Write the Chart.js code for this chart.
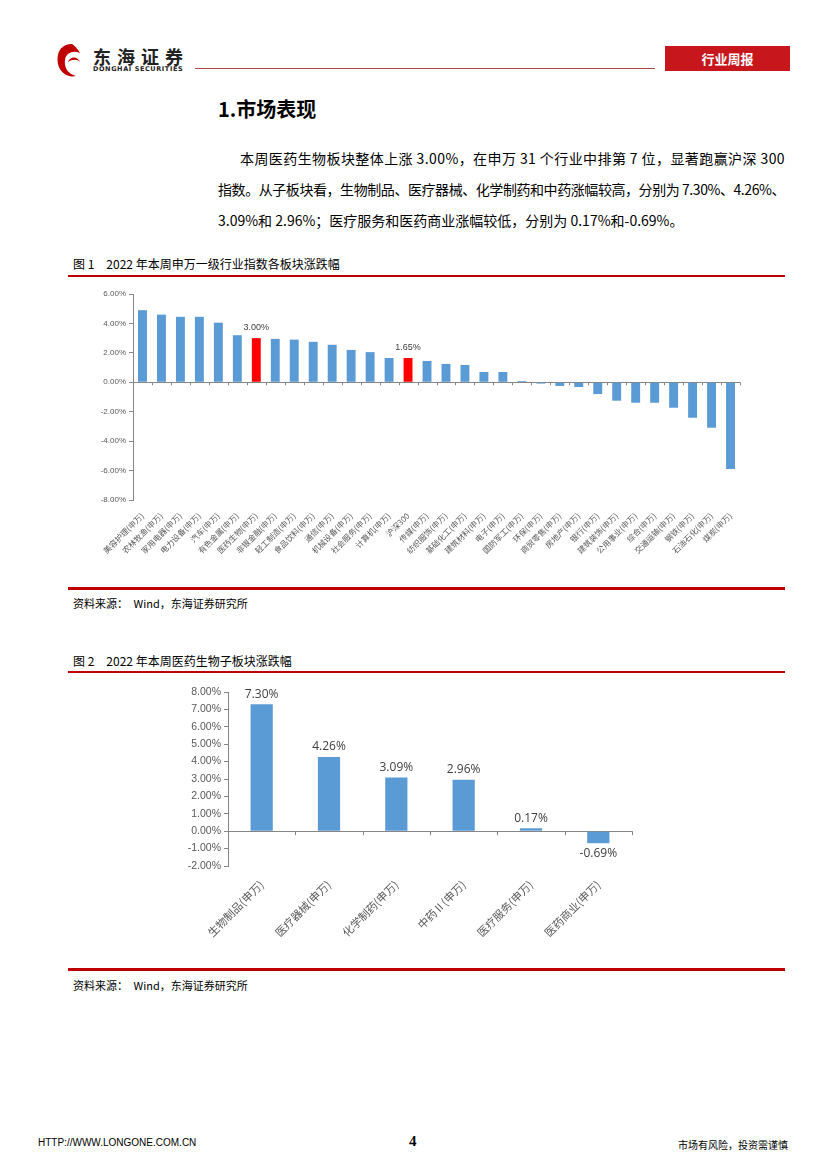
<!DOCTYPE html>
<html>
<head>
<meta charset="utf-8">
<script src="https://cdn.jsdelivr.net/npm/chart.js@4.4.1/dist/chart.umd.min.js"></script>
<style>
body { margin: 0; width: 827px; height: 1170px; background: #fff; position: relative; overflow: hidden;
       font-family: "Noto Sans CJK SC", sans-serif; color: #000; }
.abs { position: absolute; white-space: nowrap; }
.rule { position: absolute; background: #c00000; }
.para { font-size: 14px; }
.caption { font-size: 12px; }
.source { font-size: 11px; }
</style>
</head>
<body>

<!-- header -->
<svg class="abs" style="left:52px;top:40px" width="40" height="42" viewBox="0 0 40 42">
  <path d="M20 4 C8 4 4 14 6 24 C8 33 16 38 24 36 C16 34 12 28 13 20 C14 12 22 10 28 13 C24 6 20 4 20 4 Z" fill="#c00000"/>
  <path d="M16 22 C18 16 26 16 28 22 C26 19 20 19 16 22 Z" fill="#c00000"/>
</svg>
<div class="abs" style="left:93px;top:47px;font-size:18px;line-height:18px;font-weight:bold;letter-spacing:6px;color:#222">东海证券</div>
<div class="abs" style="left:93px;top:66px;font-size:6.5px;line-height:7px;font-weight:bold;letter-spacing:0.6px;font-family:'DejaVu Sans';color:#222">DONGHAI SECURITIES</div>
<div class="rule" style="left:195px;top:68px;width:460px;height:1px;background:#b04a4a"></div>
<div class="abs" style="left:665px;top:46px;width:125px;height:25px;background:#c8161d;color:#fff;font-size:13px;font-weight:bold;text-align:center;line-height:25px">行业周报</div>

<!-- section text -->
<div class="abs" style="left:218px;top:94px;font-size:20px;font-weight:bold">1.市场表现</div>
<div class="abs para fit" data-w="545" style="left:240px;top:148px">本周医药生物板块整体上涨 3.00%，在申万 31 个行业中排第 7 位，显著跑赢沪深 300</div>
<div class="abs para fit" data-w="567" style="left:218px;top:179px">指数。从子板块看，生物制品、医疗器械、化学制药和中药涨幅较高，分别为 7.30%、4.26%、</div>
<div class="abs para" style="left:218px;top:210px">3.09%和 2.96%；医疗服务和医药商业涨幅较低，分别为 0.17%和-0.69%。</div>

<!-- figure 1 -->
<div class="abs caption" style="left:73px;top:255px">图 1　2022 年本周申万一级行业指数各板块涨跌幅</div>
<div class="rule" style="left:68px;top:275px;width:717px;height:2px"></div>
<div class="abs" style="left:68px;top:280px"><canvas id="chart1" width="700" height="302"></canvas></div>
<div class="rule" style="left:68px;top:587px;width:717px;height:3px"></div>
<div class="abs source" style="left:73px;top:595px">资料来源：　Wind，东海证券研究所</div>

<!-- figure 2 -->
<div class="abs caption" style="left:73px;top:652px">图 2　2022 年本周医药生物子板块涨跌幅</div>
<div class="rule" style="left:68px;top:671px;width:717px;height:2px"></div>
<div class="abs" style="left:150px;top:676px"><canvas id="chart2" width="500" height="288"></canvas></div>
<div class="rule" style="left:68px;top:968px;width:717px;height:3px"></div>
<div class="abs source" style="left:73px;top:977px">资料来源：　Wind，东海证券研究所</div>

<!-- footer -->
<div class="abs" style="left:38px;top:1137px;font-size:10px;font-family:'Liberation Sans'">HTTP://WWW.LONGONE.COM.CN</div>
<div class="abs" style="left:409px;top:1133px;font-size:15px;font-weight:bold;font-family:'Liberation Serif'">4</div>
<div class="abs" style="left:678px;top:1137px;font-size:10px">市场有风险，投资需谨慎</div>

<script>
// Figure 1: SW level-1 industries, weekly change (%)
const industryLabels = [
    '美容护理(申万)', '农林牧渔(申万)', '家用电器(申万)', '电力设备(申万)', '汽车(申万)',
    '有色金属(申万)', '医药生物(申万)', '非银金融(申万)', '轻工制造(申万)', '食品饮料(申万)',
    '通信(申万)', '机械设备(申万)', '社会服务(申万)', '计算机(申万)', '沪深300',
    '传媒(申万)', '纺织服饰(申万)', '基础化工(申万)', '建筑材料(申万)', '电子(申万)',
    '国防军工(申万)', '环保(申万)', '商贸零售(申万)', '房地产(申万)', '银行(申万)',
    '建筑装饰(申万)', '公用事业(申万)', '综合(申万)', '交通运输(申万)', '钢铁(申万)',
    '石油石化(申万)', '煤炭(申万)'
];
const industryValues = [
    4.90, 4.60, 4.45, 4.45, 4.05, 3.20, 3.00, 2.95, 2.90, 2.75,
    2.55, 2.20, 2.05, 1.65, 1.65, 1.45, 1.25, 1.18, 0.70, 0.70,
    0.09, -0.09, -0.25, -0.32, -0.80, -1.25, -1.39, -1.39, -1.73, -2.41,
    -3.09, -5.89
];
const highlighted = ['医药生物(申万)', '沪深300'];
const industryAxis = { min: -8, max: 6, step: 2 };

// Figure 2: pharma sub-sectors, weekly change (%)
const subLabels = ['生物制品(申万)', '医疗器械(申万)', '化学制药(申万)', '中药Ⅱ(申万)', '医疗服务(申万)', '医药商业(申万)'];
const subValues = [7.30, 4.26, 3.09, 2.96, 0.17, -0.69];
const subAxis = { min: -2, max: 8, step: 1 };

const BLUE = '#5b9bd5';
const RED = '#ff0000';
const AXIS = '#868686';
const TEXT = '#595959';

// stretch paragraph lines to their measured widths in the page
function fitLines() {
    document.querySelectorAll('.fit').forEach(el => {
        const target = parseFloat(el.dataset.w);
        const natural = el.getBoundingClientRect().width;
        const n = el.textContent.length;
        el.style.letterSpacing = ((target - natural) / n) + 'px';
    });
}

// value labels above (or below) chosen bars
const valueLabels = {
    id: 'valueLabels',
    afterDatasetsDraw(chart, args, opts) {
        const { ctx } = chart;
        const meta = chart.getDatasetMeta(0);
        const values = chart.data.datasets[0].data;
        ctx.save();
        ctx.font = opts.font;
        ctx.fillStyle = '#404040';
        ctx.textAlign = 'center';
        meta.data.forEach((bar, i) => {
            if (opts.only && !opts.only.includes(chart.data.labels[i])) return;
            const v = values[i];
            const text = v.toFixed(2) + '%';
            if (v >= 0) {
                ctx.textBaseline = 'bottom';
                ctx.fillText(text, bar.x, bar.y - opts.gap);
            } else {
                ctx.textBaseline = 'top';
                ctx.fillText(text, bar.x, bar.y + opts.gap);
            }
        });
        ctx.restore();
    }
};

// small category tick marks hanging from the zero line
const zeroTicks = {
    id: 'zeroTicks',
    afterDatasetsDraw(chart, args, opts) {
        const { ctx } = chart;
        const x = chart.scales.x, y = chart.scales.y;
        const y0 = y.getPixelForValue(0);
        const n = chart.data.labels.length;
        const step = (x.right - x.left) / n;
        ctx.save();
        ctx.strokeStyle = AXIS;
        ctx.lineWidth = 1;
        ctx.beginPath();
        for (let i = 1; i <= n; i++) {
            const px = Math.round(x.left + i * step) + 0.5;
            ctx.moveTo(px, y0);
            ctx.lineTo(px, y0 + opts.len);
        }
        ctx.stroke();
        ctx.restore();
    }
};

function makeChart(id, labels, values, colors, axis, cfg) {
    return new Chart(document.getElementById(id), {
        type: 'bar',
        data: {
            labels: labels,
            datasets: [{ data: values, backgroundColor: colors, borderWidth: 0,
                         barPercentage: cfg.barPct, categoryPercentage: 1 }]
        },
        options: {
            responsive: false,
            animation: false,
            layout: { padding: cfg.padding },
            plugins: {
                legend: { display: false },
                tooltip: { enabled: false },
                valueLabels: cfg.labels,
                zeroTicks: { len: cfg.tickLen }
            },
            scales: {
                x: {
                    grid: { display: false },
                    border: { display: false },
                    ticks: { color: TEXT, font: { size: cfg.xFont, family: 'Noto Sans CJK SC' },
                             minRotation: 45, maxRotation: 45, autoSkip: false, padding: cfg.xPad },
                    afterFit(scale) { scale.height = cfg.xHeight; }
                },
                y: {
                    min: axis.min, max: axis.max,
                    border: { display: true, color: AXIS },
                    grid: {
                        drawOnChartArea: true, drawTicks: true, tickLength: 4, tickColor: AXIS,
                        color: c => c.tick && c.tick.value === 0 ? AXIS : 'rgba(0,0,0,0)'
                    },
                    ticks: { stepSize: axis.step, color: TEXT, padding: 3,
                             font: { size: cfg.yFont, family: 'Liberation Sans' },
                             callback: v => v.toFixed(2) + '%' },
                    afterFit(scale) { scale.width = cfg.yWidth; }
                }
            }
        },
        plugins: [valueLabels, zeroTicks]
    });
}

document.addEventListener('DOMContentLoaded', function() {
    fitLines();
    makeChart('chart1', industryLabels, industryValues,
        industryLabels.map(l => highlighted.includes(l) ? RED : BLUE), industryAxis, {
            barPct: 0.47, padding: { top: 14, right: 28, left: 0, bottom: 0 },
            xFont: 8, xPad: 3, xHeight: 82, yFont: 8, yWidth: 65, tickLen: 3,
            labels: { font: '9px "Liberation Sans"', gap: 6, only: highlighted }
        });
    makeChart('chart2', subLabels, subValues, BLUE, subAxis, {
        barPct: 0.33, padding: { top: 16, right: 18, left: 0, bottom: 0 },
        xFont: 11, xPad: 4, xHeight: 98, yFont: 10.5, yWidth: 78, tickLen: 4,
        labels: { font: '12px "Open Sans"', gap: 4 }
    });
});
</script>
</body>
</html>
